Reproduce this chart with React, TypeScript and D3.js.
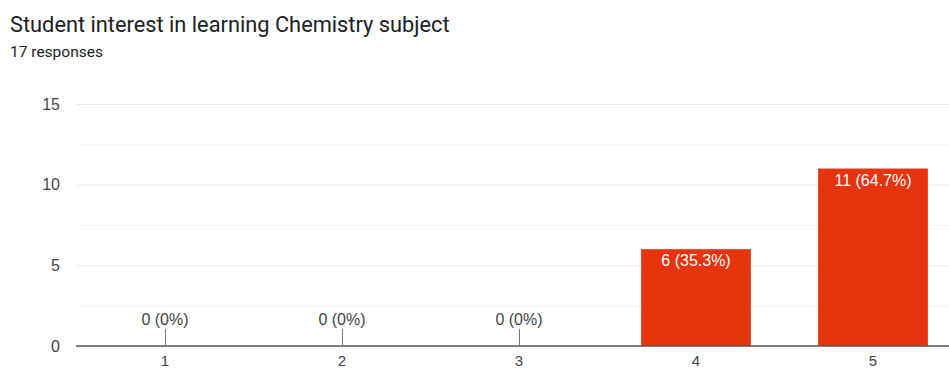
import React, { useEffect, useRef } from 'react';
import * as d3 from 'd3';

const categories = ['1', '2', '3', '4', '5'];
const counts = [0, 0, 0, 6, 11];
const percents = ['0%', '0%', '0%', '35.3%', '64.7%'];
const yTicks = [0, 5, 10, 15];
const minorTicks = [2.5, 7.5, 12.5];

const WIDTH = 949;
const HEIGHT = 370;
const BAR = '#e8330f';
const AXIS_FONT = '"Liberation Sans", Arial, sans-serif';

export default function App() {
  const ref = useRef<SVGSVGElement | null>(null);

  useEffect(() => {
    const svg = d3.select(ref.current);
    svg.selectAll('*').remove();

    const x = d3.scaleBand().domain(categories).range([76.5, 961.5]).paddingInner(0.38).paddingOuter(0.19);
    const y = d3.scaleLinear().domain([0, 15]).range([346, 104]);

    svg.append('text')
      .attr('x', 10)
      .attr('y', 32)
      .attr('font-family', 'Roboto, "Noto Sans", sans-serif')
      .attr('font-size', 21.8)
      .attr('fill', '#202124')
      .text('Student interest in learning Chemistry subject');

    svg.append('text')
      .attr('x', 10)
      .attr('y', 57)
      .attr('font-family', 'Roboto, "Noto Sans", sans-serif')
      .attr('font-size', 15.5)
      .attr('fill', '#202124')
      .text('17 responses');

    const grid = svg.append('g');
    grid.selectAll('line.minor')
      .data(minorTicks)
      .join('line')
      .attr('class', 'minor')
      .attr('x1', 76).attr('x2', WIDTH)
      .attr('y1', (d) => y(d) + 0.5).attr('y2', (d) => y(d) + 0.5)
      .attr('stroke', '#f4f4f4');
    grid.selectAll('line.major')
      .data(yTicks.slice(1))
      .join('line')
      .attr('class', 'major')
      .attr('x1', 76).attr('x2', WIDTH)
      .attr('y1', (d) => y(d) + 0.5).attr('y2', (d) => y(d) + 0.5)
      .attr('stroke', '#ebebeb');

    svg.append('g')
      .selectAll('text')
      .data(yTicks)
      .join('text')
      .attr('x', 60)
      .attr('y', (d) => y(d) + 5.5)
      .attr('text-anchor', 'end')
      .attr('font-family', AXIS_FONT)
      .attr('font-size', 16)
      .attr('fill', '#444')
      .text((d) => d);

    const data = categories.map((c, i) => ({ c, v: counts[i], p: percents[i] }));

    svg.append('g')
      .selectAll('rect')
      .data(data.filter((d) => d.v > 0))
      .join('rect')
      .attr('x', (d) => x(d.c) as number)
      .attr('width', x.bandwidth())
      .attr('y', (d) => y(d.v))
      .attr('height', (d) => y(0) - y(d.v))
      .attr('fill', BAR);

    svg.append('line')
      .attr('x1', 76).attr('x2', WIDTH)
      .attr('y1', y(0)).attr('y2', y(0))
      .attr('stroke', '#555')
      .attr('stroke-width', 1.5);

    const zero = data.filter((d) => d.v === 0);
    svg.append('g')
      .selectAll('line')
      .data(zero)
      .join('line')
      .attr('x1', (d) => (x(d.c) as number) + x.bandwidth() / 2 + 0.5)
      .attr('x2', (d) => (x(d.c) as number) + x.bandwidth() / 2 + 0.5)
      .attr('y1', y(0))
      .attr('y2', y(0) - 17)
      .attr('stroke', '#777');

    svg.append('g')
      .selectAll('text')
      .data(data)
      .join('text')
      .attr('x', (d) => (x(d.c) as number) + x.bandwidth() / 2)
      .attr('y', (d) => (d.v > 0 ? y(d.v) + 17 : y(0) - 21))
      .attr('text-anchor', 'middle')
      .attr('font-family', AXIS_FONT)
      .attr('font-size', 16)
      .attr('fill', (d) => (d.v > 0 ? '#fff' : '#444'))
      .text((d) => `${d.v} (${d.p})`);

    svg.append('g')
      .selectAll('text')
      .data(categories)
      .join('text')
      .attr('x', (d) => (x(d) as number) + x.bandwidth() / 2)
      .attr('y', 366)
      .attr('text-anchor', 'middle')
      .attr('font-family', AXIS_FONT)
      .attr('font-size', 15)
      .attr('fill', '#444')
      .text((d) => d);
  }, []);

  return (
    <svg
      ref={ref}
      width={WIDTH}
      height={HEIGHT}
      style={{ position: 'absolute', left: 0, top: 0, background: '#fff' }}
    />
  );
}
